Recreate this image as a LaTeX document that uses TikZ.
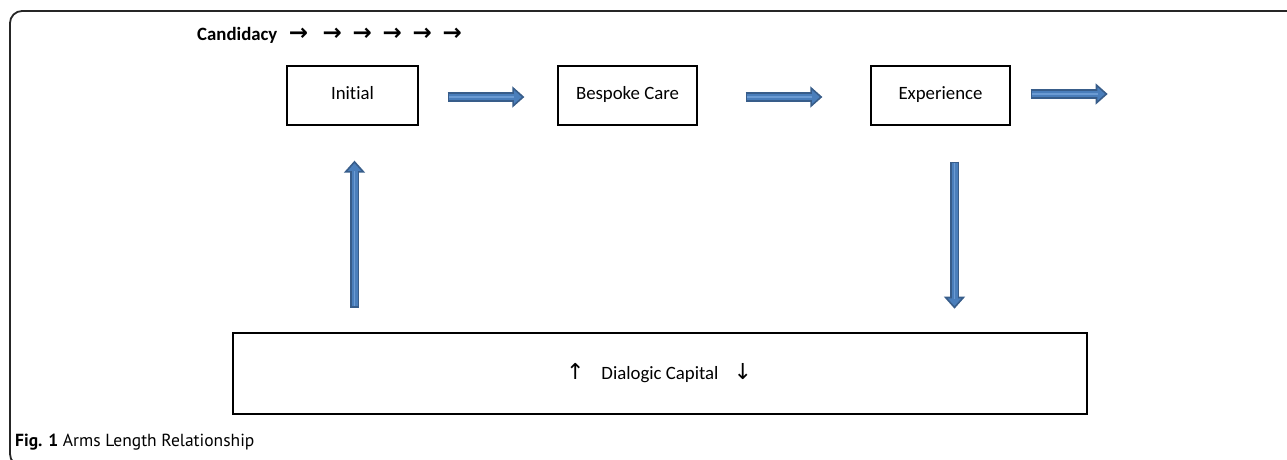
\documentclass[tikz,border=0pt]{standalone}
\usepackage{fontspec}
\setmainfont{Carlito}[Ligatures=NoCommon]
\newfontfamily\arrfont{DejaVu Sans}
\newfontfamily\capfont{PT Sans}
\usetikzlibrary{arrows.meta,calc}
\definecolor{arrowdark}{HTML}{385D8A}
\definecolor{arrowfill}{HTML}{4A7EBB}
\definecolor{arrowlight}{HTML}{6B9BD3}
\newcommand{\candarr}{{\arrfont\bfseries\fontsize{23}{24}\selectfont →}}
\newcommand{\uparr}{{\arrfont\fontsize{22}{24}\selectfont ↑}}
\newcommand{\downarr}{{\arrfont\fontsize{22}{24}\selectfont ↓}}
\begin{document}
\begin{tikzpicture}[x=1pt,y=-1pt,
  box/.style={draw=black, line width=1.3pt, minimum height=59pt, inner sep=0pt,
    text height=12.5pt, text depth=4pt, font=\fontsize{18.8}{22}\selectfont},
  bigbox/.style={draw=black, line width=1.3pt, minimum width=854pt, minimum height=81pt, inner sep=0pt},
  lbl/.style={inner sep=0pt, font=\fontsize{18.8}{22}\selectfont},
  frame/.style={draw=black!85, line width=1.8pt, rounded corners=12pt},
  barrow/.style={draw=arrowdark, line width=9.5pt,
    -{Triangle[width=21pt,length=12pt,line width=1.6pt,fill=arrowfill]},
    postaction={draw=arrowfill, line width=6pt, -, shorten >=10pt, shorten <=1.6pt},
    postaction={draw=arrowlight, line width=1.8pt, -, shorten >=10pt, shorten <=1.6pt}}]
\useasboundingbox (0,0) rectangle (1287,459);
% outer frame
\draw[frame] (1292,11) -- (10,11) -- (10,466) -- (40,466);
% boxes
\node[box, minimum width=131pt] (initial) at (352.5,95.5) {Initial};
\node[box, minimum width=139pt] (bespoke) at (627.5,95.5) {Bespoke Care};
\node[box, minimum width=139pt] (experience) at (940.5,95.5) {Experience};
\node[bigbox] (dialogic) at (660,373.5) {};
\node[lbl, anchor=base] (dlabel) at (659,379) {\uparr\hspace{17pt}Dialogic Capital\hspace{15pt}\downarr};
% candidacy line
\node[lbl, anchor=base west] (cand) at (197,40) {\textbf{Candidacy}\hspace{11.4pt}\candarr\hspace{14.7pt}\candarr\hspace{10.7pt}\candarr\hspace{10.7pt}\candarr\hspace{10.7pt}\candarr\hspace{10.7pt}\candarr};
% block arrows
\draw[barrow] ($(initial.east)+(29,1.5)$) -- ($(bespoke.west)+(-33,1.5)$);
\draw[barrow] ($(bespoke.east)+(48,1.5)$) -- ($(experience.west)+(-48,1.5)$);
\coordinate (outend) at ($(experience.east)+(97,-1.5)$);
\draw[barrow] ($(experience.east)+(20,-1.5)$) -- (outend);
\draw[barrow] ($(initial.south)+(2,182)$) -- ($(initial.south)+(2,35)$);
\draw[barrow] ($(experience.south)+(14,36)$) -- ($(experience.south)+(14,183)$);
% caption
\node[anchor=base west, inner sep=0pt] (caption) at (15,446) {\capfont\fontsize{17.5}{20}\selectfont\textbf{Fig. 1} Arms Length Relationship};
\end{tikzpicture}
\end{document}
